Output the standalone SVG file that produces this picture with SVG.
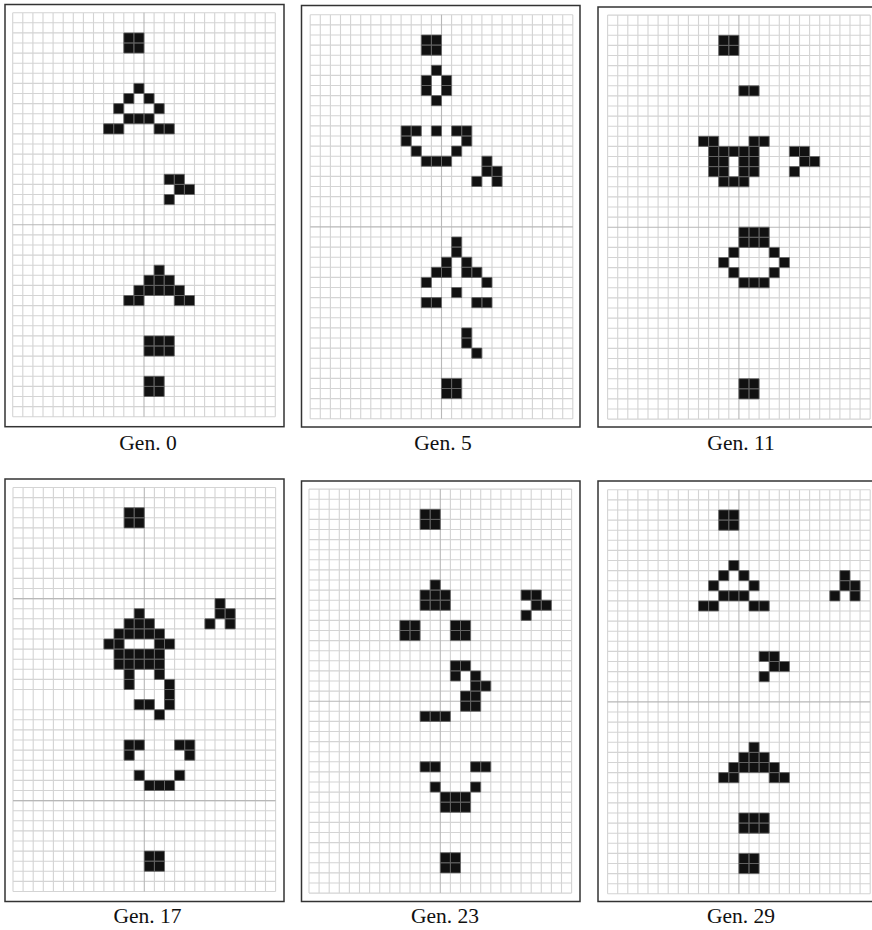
<svg xmlns="http://www.w3.org/2000/svg" xmlns:xlink="http://www.w3.org/1999/xlink" width="872" height="930" viewBox="0 0 872 930">
<style>
.frame{fill:#fff;stroke:#333;stroke-width:1.5}
.gl{fill:none;stroke:#d4d4d4;stroke-width:0.11}
.gd{fill:none;stroke:#b8b8b8;stroke-width:0.11}
.cell{fill:#111;stroke:#666;stroke-width:0.08}
.lbl{font-family:"Liberation Serif","Times New Roman",serif;font-size:21.5px;fill:#111;text-anchor:middle}
</style>
<defs>
<path id="grid" class="gl" d="M0 0V40M1 0V40M2 0V40M3 0V40M4 0V40M5 0V40M6 0V40M7 0V40M8 0V40M9 0V40M10 0V40M11 0V40M12 0V40M14 0V40M15 0V40M16 0V40M17 0V40M18 0V40M19 0V40M20 0V40M21 0V40M22 0V40M23 0V40M24 0V40M25 0V40M26 0V40M0 0H26M0 1H26M0 2H26M0 3H26M0 4H26M0 5H26M0 6H26M0 7H26M0 8H26M0 9H26M0 10H26M0 11H26M0 12H26M0 13H26M0 14H26M0 15H26M0 16H26M0 17H26M0 18H26M0 19H26M0 20H26M0 22H26M0 23H26M0 24H26M0 25H26M0 26H26M0 27H26M0 28H26M0 29H26M0 30H26M0 31H26M0 32H26M0 33H26M0 34H26M0 35H26M0 36H26M0 37H26M0 38H26M0 39H26M0 40H26"/>
<path id="gridDark" class="gd" d="M13 0V40M0 21H26"/>
</defs>

<g id="gen0">
<rect class="frame" x="5" y="4.5" width="279" height="422.2"/>
<g transform="translate(12.7,12.7) scale(10.1)">
<use xlink:href="#grid"/><use xlink:href="#gridDark"/>
<path class="cell" d="M11 2h1v1h-1zM12 2h1v1h-1zM11 3h1v1h-1zM12 3h1v1h-1zM12 7h1v1h-1zM11 8h1v1h-1zM13 8h1v1h-1zM10 9h1v1h-1zM14 9h1v1h-1zM11 10h1v1h-1zM12 10h1v1h-1zM13 10h1v1h-1zM9 11h1v1h-1zM10 11h1v1h-1zM14 11h1v1h-1zM15 11h1v1h-1zM15 16h1v1h-1zM16 16h1v1h-1zM16 17h1v1h-1zM17 17h1v1h-1zM15 18h1v1h-1zM14 25h1v1h-1zM13 26h1v1h-1zM14 26h1v1h-1zM15 26h1v1h-1zM12 27h1v1h-1zM13 27h1v1h-1zM14 27h1v1h-1zM15 27h1v1h-1zM16 27h1v1h-1zM11 28h1v1h-1zM12 28h1v1h-1zM16 28h1v1h-1zM17 28h1v1h-1zM13 32h1v1h-1zM14 32h1v1h-1zM15 32h1v1h-1zM13 33h1v1h-1zM14 33h1v1h-1zM15 33h1v1h-1zM13 36h1v1h-1zM14 36h1v1h-1zM13 37h1v1h-1zM14 37h1v1h-1z"/>
</g>
<text class="lbl" x="148" y="450">Gen. 0</text>
</g>

<g id="gen5">
<rect class="frame" x="301.5" y="5.5" width="278.5" height="421.5"/>
<g transform="translate(310.2,14.8) scale(10.1)">
<use xlink:href="#grid"/><use xlink:href="#gridDark"/>
<path class="cell" d="M11 2h1v1h-1zM12 2h1v1h-1zM11 3h1v1h-1zM12 3h1v1h-1zM12 5h1v1h-1zM11 6h1v1h-1zM13 6h1v1h-1zM11 7h1v1h-1zM13 7h1v1h-1zM12 8h1v1h-1zM9 11h1v1h-1zM10 11h1v1h-1zM12 11h1v1h-1zM14 11h1v1h-1zM15 11h1v1h-1zM9 12h1v1h-1zM15 12h1v1h-1zM10 13h1v1h-1zM14 13h1v1h-1zM11 14h1v1h-1zM12 14h1v1h-1zM13 14h1v1h-1zM17 14h1v1h-1zM17 15h1v1h-1zM18 15h1v1h-1zM16 16h1v1h-1zM18 16h1v1h-1zM14 22h1v1h-1zM14 23h1v1h-1zM13 24h1v1h-1zM15 24h1v1h-1zM12 25h1v1h-1zM13 25h1v1h-1zM15 25h1v1h-1zM16 25h1v1h-1zM11 26h1v1h-1zM17 26h1v1h-1zM14 27h1v1h-1zM11 28h1v1h-1zM12 28h1v1h-1zM16 28h1v1h-1zM17 28h1v1h-1zM15 31h1v1h-1zM15 32h1v1h-1zM16 33h1v1h-1zM13 36h1v1h-1zM14 36h1v1h-1zM13 37h1v1h-1zM14 37h1v1h-1z"/>
</g>
<text class="lbl" x="443" y="450">Gen. 5</text>
</g>

<g id="gen11">
<rect class="frame" x="598" y="7" width="279" height="420"/>
<g transform="translate(607.6,15.1) scale(10.1)">
<use xlink:href="#grid"/><use xlink:href="#gridDark"/>
<path class="cell" d="M11 2h1v1h-1zM12 2h1v1h-1zM11 3h1v1h-1zM12 3h1v1h-1zM13 7h1v1h-1zM14 7h1v1h-1zM9 12h1v1h-1zM10 12h1v1h-1zM14 12h1v1h-1zM15 12h1v1h-1zM10 13h1v1h-1zM11 13h1v1h-1zM12 13h1v1h-1zM13 13h1v1h-1zM14 13h1v1h-1zM18 13h1v1h-1zM19 13h1v1h-1zM10 14h1v1h-1zM11 14h1v1h-1zM13 14h1v1h-1zM14 14h1v1h-1zM19 14h1v1h-1zM20 14h1v1h-1zM10 15h1v1h-1zM11 15h1v1h-1zM13 15h1v1h-1zM14 15h1v1h-1zM18 15h1v1h-1zM11 16h1v1h-1zM12 16h1v1h-1zM13 16h1v1h-1zM13 21h1v1h-1zM14 21h1v1h-1zM15 21h1v1h-1zM13 22h1v1h-1zM14 22h1v1h-1zM15 22h1v1h-1zM12 23h1v1h-1zM16 23h1v1h-1zM11 24h1v1h-1zM17 24h1v1h-1zM12 25h1v1h-1zM16 25h1v1h-1zM13 26h1v1h-1zM14 26h1v1h-1zM15 26h1v1h-1zM13 36h1v1h-1zM14 36h1v1h-1zM13 37h1v1h-1zM14 37h1v1h-1z"/>
</g>
<text class="lbl" x="741" y="450">Gen. 11</text>
</g>

<g id="gen17">
<rect class="frame" x="5" y="479" width="279" height="422.5"/>
<g transform="translate(13,487.5) scale(10.1)">
<use xlink:href="#grid"/><path class="gd" d="M13 0V40M0 11H26M0 31H26"/>
<path class="cell" d="M11 2h1v1h-1zM12 2h1v1h-1zM11 3h1v1h-1zM12 3h1v1h-1zM20 11h1v1h-1zM12 12h1v1h-1zM20 12h1v1h-1zM21 12h1v1h-1zM11 13h1v1h-1zM12 13h1v1h-1zM13 13h1v1h-1zM19 13h1v1h-1zM21 13h1v1h-1zM10 14h1v1h-1zM11 14h1v1h-1zM12 14h1v1h-1zM13 14h1v1h-1zM14 14h1v1h-1zM9 15h1v1h-1zM10 15h1v1h-1zM14 15h1v1h-1zM15 15h1v1h-1zM10 16h1v1h-1zM11 16h1v1h-1zM12 16h1v1h-1zM13 16h1v1h-1zM14 16h1v1h-1zM10 17h1v1h-1zM11 17h1v1h-1zM12 17h1v1h-1zM13 17h1v1h-1zM14 17h1v1h-1zM11 18h1v1h-1zM14 18h1v1h-1zM11 19h1v1h-1zM15 19h1v1h-1zM15 20h1v1h-1zM12 21h1v1h-1zM13 21h1v1h-1zM15 21h1v1h-1zM14 22h1v1h-1zM11 25h1v1h-1zM12 25h1v1h-1zM16 25h1v1h-1zM17 25h1v1h-1zM11 26h1v1h-1zM17 26h1v1h-1zM12 28h1v1h-1zM16 28h1v1h-1zM13 29h1v1h-1zM14 29h1v1h-1zM15 29h1v1h-1zM13 36h1v1h-1zM14 36h1v1h-1zM13 37h1v1h-1zM14 37h1v1h-1z"/>
</g>
<text class="lbl" x="147.5" y="923">Gen. 17</text>
</g>

<g id="gen23">
<rect class="frame" x="301.5" y="481" width="278.5" height="420.5"/>
<g transform="translate(309,489.1) scale(10.1)">
<use xlink:href="#grid"/><use xlink:href="#gridDark"/>
<path class="cell" d="M11 2h1v1h-1zM12 2h1v1h-1zM11 3h1v1h-1zM12 3h1v1h-1zM12 9h1v1h-1zM11 10h1v1h-1zM12 10h1v1h-1zM13 10h1v1h-1zM21 10h1v1h-1zM22 10h1v1h-1zM11 11h1v1h-1zM12 11h1v1h-1zM13 11h1v1h-1zM22 11h1v1h-1zM23 11h1v1h-1zM21 12h1v1h-1zM9 13h1v1h-1zM10 13h1v1h-1zM14 13h1v1h-1zM15 13h1v1h-1zM9 14h1v1h-1zM10 14h1v1h-1zM14 14h1v1h-1zM15 14h1v1h-1zM14 17h1v1h-1zM15 17h1v1h-1zM14 18h1v1h-1zM16 18h1v1h-1zM16 19h1v1h-1zM17 19h1v1h-1zM15 20h1v1h-1zM16 20h1v1h-1zM15 21h1v1h-1zM16 21h1v1h-1zM11 22h1v1h-1zM12 22h1v1h-1zM13 22h1v1h-1zM11 27h1v1h-1zM12 27h1v1h-1zM16 27h1v1h-1zM17 27h1v1h-1zM12 29h1v1h-1zM16 29h1v1h-1zM13 30h1v1h-1zM14 30h1v1h-1zM15 30h1v1h-1zM13 31h1v1h-1zM14 31h1v1h-1zM15 31h1v1h-1zM13 36h1v1h-1zM14 36h1v1h-1zM13 37h1v1h-1zM14 37h1v1h-1z"/>
</g>
<text class="lbl" x="445" y="923">Gen. 23</text>
</g>

<g id="gen29">
<rect class="frame" x="598" y="481" width="279" height="420.5"/>
<g transform="translate(607.6,489.8) scale(10.1)">
<use xlink:href="#grid"/><use xlink:href="#gridDark"/>
<path class="cell" d="M11 2h1v1h-1zM12 2h1v1h-1zM11 3h1v1h-1zM12 3h1v1h-1zM12 7h1v1h-1zM11 8h1v1h-1zM13 8h1v1h-1zM23 8h1v1h-1zM10 9h1v1h-1zM14 9h1v1h-1zM23 9h1v1h-1zM24 9h1v1h-1zM11 10h1v1h-1zM12 10h1v1h-1zM13 10h1v1h-1zM22 10h1v1h-1zM24 10h1v1h-1zM9 11h1v1h-1zM10 11h1v1h-1zM14 11h1v1h-1zM15 11h1v1h-1zM15 16h1v1h-1zM16 16h1v1h-1zM16 17h1v1h-1zM17 17h1v1h-1zM15 18h1v1h-1zM14 25h1v1h-1zM13 26h1v1h-1zM14 26h1v1h-1zM15 26h1v1h-1zM12 27h1v1h-1zM13 27h1v1h-1zM14 27h1v1h-1zM15 27h1v1h-1zM16 27h1v1h-1zM11 28h1v1h-1zM12 28h1v1h-1zM16 28h1v1h-1zM17 28h1v1h-1zM13 32h1v1h-1zM14 32h1v1h-1zM15 32h1v1h-1zM13 33h1v1h-1zM14 33h1v1h-1zM15 33h1v1h-1zM13 36h1v1h-1zM14 36h1v1h-1zM13 37h1v1h-1zM14 37h1v1h-1z"/>
</g>
<text class="lbl" x="741" y="923">Gen. 29</text>
</g>
</svg>
